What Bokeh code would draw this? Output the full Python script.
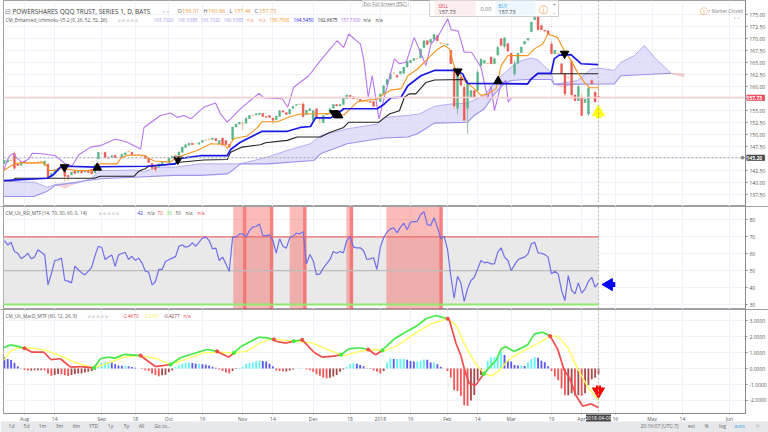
from math import pi
from bokeh.embed import file_html
from bokeh.resources import INLINE
from bokeh.layouts import column
from bokeh.models import Range1d, FixedTicker, Grid, Label, Span, PrintfTickFormatter
from bokeh.plotting import figure

# ---------------- DATA (bar index 0 = 2017-08-01, 171 = 2018-04-09) ----------------
bar_index = list(range(-6, 172))
opens = [144.0,144.3,144.7,146.0,143.8,143.6,144.5,144.2,144.0,144.0,144.3,
 144.3,143.6,143.8,141.2,141.9,142.6,143.0,142.8,141.5,141.6,
 142.4,142.1,142.6,142.2,142.6,142.8,142.0,144.9,146.1,146.3,
 145.3,145.3,145.7,145.3,145.3,145.8,146.5,146.3,145.8,145.9,
 145.7,145.6,145.0,144.0,143.4,143.2,143.9,144.3,144.2,145.1,
 145.5,145.7,146.3,147.3,147.8,148.2,148.1,148.0,148.4,148.8,
 149.0,149.0,149.2,148.0,149.3,148.8,148.0,148.9,151.6,152.2,
 152.4,152.4,153.3,154.0,154.1,154.2,154.4,153.8,154.0,153.4,
 153.1,153.8,155.0,154.6,154.3,155.5,156.1,156.3,156.4,154.2,
 155.0,153.0,155.4,153.5,152.5,154.2,154.4,155.5,156.3,156.0,
 156.3,157.5,158.2,157.9,157.5,157.4,157.1,156.9,156.9,156.9,
 156.1,156.9,158.5,160.4,161.6,162.9,162.4,162.7,162.8,164.1,
 165.0,165.5,165.9,166.0,168.2,169.6,169.2,169.9,170.7,169.2,
 169.0,168.7,167.6,163.8,155.5,162.0,159.9,155.5,157.8,159.2,
 159.2,164.4,164.9,164.8,166.2,164.8,166.6,170.0,168.4,169.0,
 167.0,162.7,164.9,167.1,168.9,169.7,171.5,174.0,175.5,172.8,
 171.8,171.7,168.9,166.9,167.0,164.8,162.7,161.9,165.3,158.3,
 157.1,157.8,156.7,154.3,161.3,158.9,158.01]
closes = [144.6,144.7,144.6,143.0,143.5,144.3,144.1,144.0,143.9,144.2,144.1,
 144.5,144.5,141.1,141.9,142.7,142.9,142.8,141.3,141.2,142.2,
 141.9,142.4,142.0,142.6,142.1,141.8,143.7,146.3,146.1,145.2,
 145.1,145.6,145.2,145.3,145.9,146.2,146.4,145.8,145.7,145.8,
 145.5,145.0,144.2,143.0,142.7,143.9,144.3,144.2,145.1,145.5,
 145.7,146.4,147.4,147.9,148.2,147.9,148.1,148.3,148.8,148.9,
 149.1,149.3,148.7,148.8,147.8,147.9,147.4,151.6,152.2,152.6,
 152.3,153.4,154.0,154.1,154.4,154.5,153.8,153.6,153.6,153.0,
 153.9,155.0,154.7,154.2,155.3,155.9,156.3,156.4,153.8,155.1,
 155.4,155.0,153.6,153.3,154.0,154.4,155.4,156.3,156.0,156.3,
 157.6,158.3,157.9,157.5,157.4,157.0,156.9,157.0,156.7,155.9,
 156.0,158.5,160.2,161.5,162.7,162.8,162.0,163.2,164.1,165.3,
 165.5,165.9,165.8,167.9,169.6,168.8,169.9,170.9,169.6,169.0,
 168.9,168.9,164.8,156.0,163.5,160.3,153.0,160.6,159.2,157.8,
 163.0,165.8,165.5,164.9,164.8,165.9,168.2,168.6,170.2,167.4,
 164.8,164.8,167.0,168.3,169.5,170.1,173.5,175.5,171.9,171.9,
 171.6,171.0,166.9,167.6,166.9,162.7,158.5,162.0,158.3,157.1,
 160.0,154.0,157.4,159.7,160.6,156.8,157.73]
visible_highs = {-3:146.5,7:144.0,12:143.4,65:152.7,74:153.6,83:156.8,128:164.6,129:164.0,131:160.6,132:161.3,
 135:163.5,141:168.5,146:165.5,152:176.5,153:176.0,157:169.5,163:165.5,165:160.5,166:158.5,168:160.0,169:161.6,171:160.88}
visible_lows = {-3:142.7,7:140.8,12:140.2,13:140.5,38:142.6,39:142.2,65:151.0,74:152.2,83:153.5,86:152.6,88:152.3,
 128:155.3,129:154.3,131:152.7,132:150.2,143:168.0,146:162.2,161:158.0,163:157.5,166:153.9,168:153.9,171:157.46}

tenkan_x = [-6.2,-4.7,-3,-1.2,5.7,7,7.3,9.2,11.7,12.7,15.7,20.7,22.6,27.6,28.6,30.6,35.6,36.6,38.6,43.4,45.5,51.4,55.4,59.4,60.4,62.4,66.3,69.3,70.8,75.3,79.3,82.2,91.2,95.2,97.2,99.1,102.1,105,107.2,109.2,112.2,114.2,117.1,120.1,123.1,125.1,126.6,128.1,131.5,134,136,138,140.5,142,144,145.4,149.9,151.9,154.4,155.9,158.8,160.8,162.8,164.8,166.8,168.3,171]
tenkan_y = [142.5,143.2,143.9,144.1,144.1,143.2,142.5,142.5,143.9,142.8,142.5,142.5,143.9,143.9,145,145.7,145.7,145.3,144.5,144.3,145.3,146.7,148.1,148,147.1,149.2,149.7,151.4,152.7,152.7,153.8,154.3,154.4,154.1,155.5,156.8,157.2,157.4,158.5,159.3,159.6,162.3,163.7,165.8,167.9,168.6,167.9,164.1,160.9,159.6,158.2,158.5,159.6,164.4,166.5,166.5,166.5,167.9,168.9,171,170.3,167.5,165.5,163,160.9,159.8,159.8]
kijun_x = [-6.2,6.8,8.7,10.7,12.2,21.6,22.6,36.5,45,46,52.4,60.4,61.4,64.3,68.3,70.8,78.3,82.2,85.2,86.7,91.2,93.1,95.1,105.1,107.2,109.2,112.2,114.2,118.1,122.1,128.1,130.5,132,149.9,150.9,152.9,156.9,157.8,159.3,162.8,165.8,171]
kijun_y = [140.4,140.9,141.7,143.2,143.4,143.2,143.3,143.4,143.9,145,145.6,145.6,146.9,148.4,149.8,150.7,150.7,151.5,151.7,153.5,153.5,154.3,155.4,155.4,156.4,157.7,157.8,160.2,162.3,163.4,163.4,162.7,160.7,160.6,161.6,162.8,162.8,165.8,166.6,166.7,164.8,164.6]
base52_x = [-6.2,-3.7,-2.7,20.7,22.6,32.6,34.1,36,37,44.5,45.5,53.4,60.4,61.4,64.8,70.3,71.8,78.3,81.2,88.2,90.7,95.1,96.6,105.6,107.2,108.7,111.7,113.2,114.6,116.6,119.6,122.1,131,132,149.9,150.9,152.9,171]
base52_y = [140.4,140.4,140.9,140.9,141.3,141.3,142.4,142.9,143.4,143.9,144.2,144.7,144.8,146.3,147.4,147.9,148.3,148.8,149.5,149.5,150.4,151.5,152.6,152.6,153.5,154.3,155,157.8,158.5,158.5,160.9,161.4,161.5,160.7,160.6,161.6,162.7,162.7]
chikou_x = [-6.2,-4.7,-3.4,-2.4,-0.7,1.3,2.3,5.3,9.2,12.2,14.2,16.2,19.7,22.6,27.1,30.6,34.6,35.6,40.5,43.5,45.5,47.5,49.5,53.4,56.9,58.4,60.4,64.8,69.8,71.3,76.8,78.4,80.2,84.7,88.2,90.7,93.1,95.1,96.6,100.1,101.1,102.4,103.6,105.6,107.2,110.2,111.7,113.7,116.1,118.1,119.6,121.1,123.6,126.1,127.1,129.2,131,133.2,136,138,139,140,142,143.4,144.1,145.1]
chikou_y = [142.5,145.3,146.1,145.2,144.2,144.9,146.1,146,145.6,143.9,143.5,145.8,147.4,147.7,149.1,148.4,147,151.5,154,154.5,153.6,154,153.3,155.7,156.6,154.3,152.6,155.7,158.6,157.7,157.5,155.7,159.9,162.3,165.5,167.6,169.6,168.2,171,168.9,165.5,157.8,162.3,153.3,157.8,165.8,164.8,165.1,170.3,166.9,164.4,168.9,171,174.2,171.9,171.6,167.2,167.2,164.1,157.5,160.2,155,160.6,161.3,156.8,157.7]
span_a_x = [-6.2,-1.2,2.8,6.8,9.2,15.7,19.7,22.6,32.6,35.6,39.5,45,52.4,60.4,64.3,72.3,78.3,85.2,88.2,96.1,105.1,107.2,114.2,117.6,122.1,127.1,132,137,140.5,143.9,146.9,150.9,152.9,156.9,157.4,157.8,164.8,168.8,171,175.7,177.7,181.7,184.7,187.6,192.6]
span_a_y = [140.4,140.1,140.1,139,139.6,139.9,140.8,142.5,142.6,142.2,143.2,143.2,143.9,143.9,143.9,145.3,146.7,148.1,149.8,151.2,152.2,153.6,154,154.3,155.9,156.4,156.6,158.2,161.3,163.4,165.2,166,165.6,163,161.5,160.5,161.3,163.7,163.9,163.4,165.1,166.5,168.6,166.2,162.8]
span_b_x = [-6.2,2.8,6.8,9.2,15.7,22.6,32.6,44.5,52.4,60.4,61.9,64.3,72.3,86.2,88.2,96.1,105.1,107.2,114.2,117.1,122.1,132,134,137,140,142.9,144.9,149.9,156.9,157.8,175.7,177.7,192.6]
span_b_y = [137.1,137.1,138.2,139.4,140.1,140.8,141.1,141.5,141.5,141.8,142.5,143.9,143.9,144.6,146,148.1,149.1,149.3,149.5,150.2,152.4,152.6,154,155.4,158.5,160.6,161.3,161.5,161.5,160.5,160.6,162.3,162.8]
red_cloud_x = [[9.2,15.7,12.0],[157.8,164.0,160.0],[192.6,196.4,196.4]]
red_cloud_y = [[139.6,140.0,138.9],[160.5,160.5,160.0],[162.8,162.7,162.1]]
cross_down = [(11.9,143.2),(45.7,144.8),(92.2,154.5),(129.1,163.2),(160.9,166.9)]
cross_up = [(21.7,143.1),(93.6,154.0),(141.1,161.2)]

rsi_x = list(range(-6, 172))
rsi = [67.8,65.2,66.8,61.3,60.3,57,58.3,60.3,57,58,62.3,60.9,59.3,41.6,48.1,56,56.4,57.4,44.2,43.8,42.8,52.6,50.7,48.7,47.5,49.7,52,58.9,64.4,63.7,
 56.6,58,59.3,52.6,59.3,60.1,60.9,56.6,58.5,56,57.4,54.6,49.7,49.1,41.6,43.6,50.7,50.7,55.4,56.4,57.4,58.3,64.4,65.2,63.9,64.4,66.4,64.4,66.8,69.2,
 69.8,67.8,62.9,63.3,56,58,54,49.5,69.8,69.8,71.7,71.7,69.8,73.7,75.7,76.1,77.6,70.7,70.7,71.1,67.8,60.3,68.8,64.4,63.3,69.4,70.4,72.1,71.7,73.1,
 54,59.5,56,47.7,48.1,51.5,54,56.6,61.3,60.3,61.3,60.5,67.8,70.2,63.9,63.5,63.5,61.9,56.6,57,57.6,50.7,63.9,69.4,72.8,74.7,75.3,72.3,75.7,78,74.3,78.6,
 79,79,83,84.9,77.2,76.7,81.2,75.7,68.8,70.4,62.9,47.1,33.7,46.7,42.8,31.8,39.3,44.2,46.1,51,56,54.6,55,54,54,60.9,63.5,58,56,50.1,53.4,56.4,57.4,58,
 59.9,65.8,66.8,60.5,60.3,59.5,58,48.1,49.7,48.1,38.3,32.4,47.1,38.3,36.3,42.8,36.7,39.3,43.6,46.1,40.2,42.8]
overbought_left = [62.2,79.0,95.9,107.8]
overbought_right = [74.1,84.0,97.9,124.6]
exit_left = [65.1,73.1,83.0,96.9,123.6]
exit_right = [66.1,74.1,84.0,97.9,124.6]

macd_x = [-6.2,-4.2,-2.2,0,2.2,5.8,7.8,10.7,13.7,16.7,20.7,22.6,25,27,29.6,34.6,36.5,39,43.5,46.5,49.5,54.4,57.4,60.9,62.4,64.3,67.3,69.8,72.3,74.3,74.8,77.8,80.2,82.7,83.4,86.2,88.7,92.2,94.3,96.6,100,102.4,104.6,106.6,107.2,110.2,113.2,117.1,119.6,122.6,126.1,126.6,128.6,130,131,132.5,134.5,136.8,139,140.5,142,143.4,145.9,149.9,151.9,154.4,156.6,158.8,160.8,162.3,164.3,166.3,168.8,171]
macd = [1.31,1.49,1.41,1.28,1.03,1.03,.57,.62,.09,.13,.05,.62,.72,.66,.89,.82,.51,.13,.26,.68,.89,1.2,1.08,.72,.99,1.35,1.7,1.97,1.93,1.83,1.72,1.6,1.72,1.81,1.66,1.03,.72,.78,.87,1.24,1.31,1.2,.87,1.14,1.28,1.87,2.25,2.71,3.13,3.33,3.13,3.02,1.56,.82,0,-.95,-1.02,-.33,.2,.51,1.24,1.37,1.08,1.49,2.18,2.29,2.04,1.24,-.12,-.54,-1.69,-2.36,-2.21,-2.46]
cross_i = [0,20.7,34.6,43.5,57.4,62.4,74.3,80.2,82.7,94.3,102.4,106.6,126.1,136.8,156.6]
signal_x = [-6.2,-4.2,-2.2,0.8,5.8,10.7,14.7,20.7,25.6,29.6,34.6,39.5,43.5,48.5,53.4,58.4,62.4,66.3,69.8,73.3,80.2,85.7,89.7,95.1,100.1,104.6,107.2,111.2,116.1,121.1,126.1,128.6,131.5,134.5,136.8,139,141.5,144,146.9,151.9,156.6,158.8,161.8,164.8,167.8,171]
signal = [.51,1.1,1.28,1.31,1.18,.82,.41,.05,.41,.72,.82,.61,.26,.62,.99,1.03,.99,1.1,1.56,1.87,1.72,1.62,1.24,.82,1.1,1.2,1.1,1.45,2.18,2.81,3.13,2.71,1.35,.3,-.28,-.47,-.12,.51,.93,1.45,2.04,2.04,1.35,0,-1.16,-2]
hist = [.71,.6,.54,.35,.15,.02,-.08,-.12,-.12,-.1,-.1,
 -.1,-.12,-.3,-.44,-.4,-.33,-.35,-.42,-.46,-.4,
 -.33,-.3,-.3,-.25,-.2,-.15,-.05,.15,.35,.4,
 .4,.38,.28,.2,.18,.18,.15,.1,.05,.01,
 -.02,-.1,-.15,-.3,-.4,-.48,-.42,-.38,-.22,-.12,
 .1,.2,.3,.35,.38,.36,.3,.3,.27,.25,
 .2,.12,.05,-.05,-.15,-.25,-.3,-.15,-.03,.05,
 .1,.3,.33,.38,.45,.5,.48,.45,.3,.15,
 -.12,-.15,-.18,-.18,-.12,-.05,.03,.05,.01,-.05,
 -.1,-.2,-.35,-.45,-.55,-.6,-.58,-.5,-.4,-.2,
 -.05,.1,.28,.33,.3,.22,.15,.03,-.02,-.12,
 -.2,-.3,-.15,.38,.63,.6,.6,.6,.6,.55,
 .48,.45,.45,.5,.58,.55,.38,.38,.28,.12,
 .01,-.15,-.55,-1.36,-1.4,-1.7,-2.3,-2.33,-2.0,-1.65,
 -.75,-.4,.02,.5,.72,.72,.72,1.05,.85,.5,
 .45,.22,.2,.2,.17,.4,.6,.72,.68,.5,
 .4,.15,-.15,-.5,-.73,-1.25,-1.67,-1.67,-1.55,-1.7,
 -1.67,-1.7,-1.55,-1.03,-.67,-.58,-.37]

time_tick_index = [0,9,23,33,43,53,65,74,86,97,106,115,126,135,145,157,166,176,187,196,210]
time_tick_labels = ["Aug","14","Sep","18","Oct","16","Nov","14","Dec","18","2018","16","Feb","14","Mar","19","Apr","16","May","14","Jun"]
price_ticks = [137.5,140,142.5,145,147.5,150,152.5,155,157.5,160,162.5,165,167.5,170,172.5,175]
rsi_ticks = [30,40,50,60,70,80]
macd_ticks = [-2,-1,0,1,2,3]
last_price = 157.73
alert_price = 145.20
last_bar = 171

# ---------------- LAYOUT ----------------
LEFT, FW, RB, BB = 3, 742, 23, 19
H1, H2, H3 = 206, 103, 104
xr = Range1d(-6.26, 214.8)
FONT = "Open Sans"
GRID = "#eff2f8"
AXC = "#8a8a8a"


def pane(h, yr, ticks, fmt, bottom=0):
    p = figure(frame_width=FW, frame_height=h, x_range=xr, y_range=Range1d(*yr),
               y_axis_location="right", output_backend="svg", toolbar_location=None,
               min_border_left=LEFT, min_border_top=0, min_border_bottom=bottom, min_border_right=RB,
               background_fill_color="white", border_fill_color="white",
               outline_line_color="#a0a0a0", outline_line_width=1)
    p.grid.visible = False
    p.add_layout(Grid(dimension=0, ticker=FixedTicker(ticks=time_tick_index), grid_line_color=GRID, grid_line_width=1))
    p.add_layout(Grid(dimension=1, ticker=FixedTicker(ticks=ticks), grid_line_color=GRID, grid_line_width=1))
    ax = p.yaxis[0]
    ax.ticker = FixedTicker(ticks=ticks)
    ax.formatter = PrintfTickFormatter(format=fmt)
    ax.major_label_text_font = FONT
    ax.major_label_text_font_size = "5px"
    ax.major_label_text_color = "#555555"
    ax.major_tick_in = 0
    ax.major_tick_out = 2
    ax.major_tick_line_color = AXC
    ax.minor_tick_line_color = None
    ax.axis_line_color = AXC
    ax.major_label_standoff = 2
    p.xaxis.visible = bottom > 0
    p.add_layout(Span(location=last_bar, dimension="height", line_color="#b0b0b0", line_dash="2 2", line_width=1))
    return p


# transparent sheet on top of the panes for legends, tags and the bottom toolbar
ov = figure(width=768, height=432, x_range=Range1d(0, 768), y_range=Range1d(0, 432), output_backend="svg",
            toolbar_location=None, x_axis_location=None, y_axis_location=None, min_border=0,
            background_fill_color=None, border_fill_color=None, outline_line_color=None,
            styles={"position": "absolute", "left": "0px", "top": "0px", "pointer-events": "none"})
ov.grid.visible = False


def txt(rx, ry, s, color="#555555", size=5, weight="normal", align="left", bg=None):
    ov.add_layout(Label(x=rx, y=432 - ry, text=s, text_color=color, text_font=FONT, text_font_size=f"{size}px",
                        text_font_style=weight, text_baseline="middle", text_align=align, background_fill_color=bg))


def box(x0, x1, y0, y1, fill, line=None):
    ov.quad(left=[x0], right=[x1], top=[432 - y0], bottom=[432 - y1], fill_color=fill, line_color=line, line_width=1)


# ---------------- MAIN PANE ----------------
p1 = pane(H1, (135.0, 178.0), price_ticks, "%.2f")
p1.patch(span_a_x + span_b_x[::-1], span_a_y + span_b_y[::-1], fill_color="#d5d1f8", fill_alpha=0.7, line_color=None)
p1.patches(red_cloud_x, red_cloud_y, fill_color="#f8ccd0", fill_alpha=0.8, line_color="#f2a9ae", line_width=0.6)
p1.line(span_a_x, span_a_y, line_color="#b4aef0", line_width=1)
p1.line(span_b_x, span_b_y, line_color="#9a92ec", line_width=1.1)
p1.add_layout(Span(location=last_price, dimension="width", line_color="#f9cfcf", line_width=1.5))
p1.add_layout(Span(location=alert_price, dimension="width", line_color="#aaaaaa", line_dash="2 2", line_width=1))

tops = [max(o, c) for o, c in zip(opens, closes)]
bots = [min(o, c) for o, c in zip(opens, closes)]
colors = ["#f3ad66" if abs(o - c) <= 0.2 else ("#58b488" if c > o else "#ea5a56") for o, c in zip(opens, closes)]
highs = [visible_highs.get(i, t) for i, t in zip(bar_index, tops)]
lows = [visible_lows.get(i, b) for i, b in zip(bar_index, bots)]
wick_colors = ["#8db79c" if c == "#58b488" else "#e9b184" for c in colors]
p1.segment(bar_index, lows, bar_index, highs, line_color=wick_colors, line_width=0.9)
p1.vbar(x=bar_index, top=tops, bottom=bots, width=0.58, fill_color=colors, line_color=colors, line_width=0.4)

p1.line(chikou_x, chikou_y, line_color="#bb74ef", line_width=1.1)
p1.line(base52_x, base52_y, line_color="#222222", line_width=1.1)
p1.line(tenkan_x, tenkan_y, line_color="#f7931e", line_width=1.1)
p1.line(kijun_x, kijun_y, line_color="#1818e6", line_width=1.7)
p1.scatter([a for a, b in cross_down], [b for a, b in cross_down], marker="inverted_triangle", size=8.5, color="black")
p1.scatter([a for a, b in cross_up], [b for a, b in cross_up], marker="triangle", size=8.5, color="black")

# yellow arrow
p1.segment([last_bar], [153.4], [last_bar], [154.6], line_color="#ffff00", line_width=5)
p1.scatter([last_bar], [154.66], marker="triangle", size=12, color="#ffff00")

# ---------------- RSI PANE ----------------
p2 = pane(H2, (27.05, 87.9), rsi_ticks, "%d")
p2.quad(left=[-6.26], right=[last_bar], top=[70], bottom=[30], fill_color="#e9e9e9", line_color=None)
p2.quad(left=overbought_left, right=overbought_right, top=[87.9] * 4, bottom=[27.05] * 4,
        fill_color="#f4544f", fill_alpha=0.4, line_color=None)
p2.quad(left=exit_left, right=exit_right, top=[87.9] * 5, bottom=[27.05] * 5,
        fill_color="#f22a2a", fill_alpha=0.4, line_color=None)
p2.segment([-6.26], [70], [last_bar], [70], line_color="#f06a6a", line_width=1.2)
p2.segment([-6.26], [50], [last_bar], [50], line_color="#bdbdbd", line_width=1.2)
p2.segment([-6.26], [30], [last_bar], [30], line_color="#8fe86f", line_width=2)
p2.line(rsi_x, rsi, line_color="#6f6fe8", line_width=1.2)
# blue arrow
p2.segment([174.1], [41.8], [176], [41.8], line_color="#0000ff", line_width=5)
p2.scatter([174.1], [41.8], marker="triangle", angle=pi / 2, size=12, color="#0000ff")

# ---------------- MACD PANE ----------------
p3 = pane(H3, (-2.816, 3.71), macd_ticks, "%.4f", bottom=BB)
hist_c = []
for k, v in enumerate(hist):
    prev = hist[k - 1] if k else v + 0.05
    if v >= 0:
        hist_c.append("#62f5f5" if v >= prev else "#5a5aee")
    else:
        hist_c.append("#f25858" if v < prev else "#a84a4a")
p3.vbar(x=bar_index, top=hist, bottom=[0] * len(hist), width=0.55, fill_color=hist_c, line_color=None)
p3.line(signal_x, signal, line_color="#ffff55", line_width=1.3)
seg_xs, seg_ys, seg_c = [], [], []
for k in range(len(macd_x) - 1):
    mid = (macd_x[k] + macd_x[k + 1]) / 2
    n = sum(1 for c in cross_i if c <= mid)
    seg_xs.append([macd_x[k], macd_x[k + 1]])
    seg_ys.append([macd[k], macd[k + 1]])
    seg_c.append("#f14a4a" if n % 2 else "#44e844")
p3.multi_line(seg_xs, seg_ys, line_color=seg_c, line_width=1.7)
lookup = dict(zip(macd_x, macd))
p3.scatter(cross_i, [lookup[c] for c in cross_i], marker="circle", size=3.2,
           color=["#f14a4a" if k % 2 == 0 else "#44e844" for k in range(len(cross_i))])
# red arrow
p3.segment([last_bar], [-1.06], [last_bar], [-1.43], line_color="#ff0000", line_width=5)
p3.scatter([last_bar], [-1.43], marker="inverted_triangle", size=12, color="#ff0000")

xa = p3.xaxis[0]
xa.ticker = FixedTicker(ticks=time_tick_index)
xa.major_label_overrides = {t: s for t, s in zip(time_tick_index, time_tick_labels)}
xa.major_label_text_font = FONT
xa.major_label_text_font_size = "5px"
xa.major_label_text_color = "#555555"
xa.major_tick_in = 0
xa.major_tick_out = 1
xa.major_tick_line_color = AXC
xa.minor_tick_line_color = None
xa.axis_line_color = AXC
xa.major_label_standoff = 1

# ---------------- OVERLAY: boxes first, then texts ----------------
box(0, 768, 421, 432, "#e6e8ec")
ov.segment([0, 0], [226, 123], [768, 768], [226, 123], line_color="#a0a0a0", line_width=1)
box(362, 408, -1, 6, "#ffffff", "#e0e0e0")
box(429, 558, -1, 16, "#ffffff", "#d0d0d0")
box(434, 475, 0, 15, "#fdeef0")
box(495, 535, 0, 15, "#eef7fd")
box(585.5, 610.5, 414, 421, "#444444")

txt(4, 10.5, "⊟", "#8a8a8a", 7)
txt(12, 10.5, "POWERSHARES QQQ TRUST, SERIES 1, D, BATS", "#3a3a3a", 6.4)
txt(162, 10.5, "▪ ▪", "#d5d5d5", 7)
for x_pos, lab, val in [(177, "O", "158.01"), (203, "H", "160.88"), (229, "L", "157.46"), (254, "C", "157.73")]:
    txt(x_pos, 10.5, lab, "#555555", 5.5)
    txt(x_pos + 4.5, 10.5, val, "#f09a3c", 5.5)
txt(5, 19, "CM_Enhanced_Ichimoku-V5.2 (9, 26, 52, 52, 26)", "#555555", 4.7)
txt(117, 19, "■ ■ ■ ■ ■", "#dadada", 5)
for x_pos, s, c in [(153, "163.7020", "#a49cec"), (177, "160.5385", "#a49cec"), (200, "163.7020", "#a49cec"),
                    (223, "160.5385", "#a49cec"), (246, "n/a", "#f4a07a"), (258, "n/a", "#f4a07a"),
                    (269, "159.7500", "#f7931e"), (293, "164.5450", "#1212e6"), (317, "162.6675", "#222222"),
                    (340, "157.7300", "#b96cf0"), (363, "n/a", "#444444"), (375, "n/a", "#444444")]:
    txt(x_pos, 19, s, c, 4.7)

txt(363, 3.2, "Exit Full Screen (ESC)", "#777777", 4.5)

txt(438, 5, "SELL", "#e8475a", 4.5)
txt(438, 11, "157.73", "#444444", 5.5)
txt(480, 8.5, "0.00", "#777777", 5.5)
txt(498, 5, "BUY", "#3a9ee8", 4.5)
txt(498, 11, "157.73", "#444444", 5.5)
txt(543, 8.5, "ⓘ", "#f09a3c", 9, align="center")
txt(554, 4, "+", "#666666", 5, align="center")
txt(554, 12, "−", "#666666", 5, align="center")

txt(703, 10, "ⓘ", "#f09a3c", 8, align="center")
txt(708, 10, "• Market Closed", "#888888", 4.7)
txt(733, 17, "▪ ▪", "#d5d5d5", 6)

txt(746, 97.3, " 157.73 ", "#ffffff", 5, "bold", bg="#ee4b5c")
txt(746, 157.3, " 145.20 ", "#ffffff", 5, "bold", bg="#444444")
txt(742, 157.3, "+", "#ffffff", 4, align="center", bg="#555555")

txt(5, 212.3, "CM_Ult_RSI_MTF (14, 70, 30, 60, 0, 14)", "#555555", 4.7)
txt(98, 212.3, "■ ■ ■ ■ ■", "#dadada", 5)
for x_pos, s, c in [(137, "42", "#3434e8"), (147, "n/a", "#555555"), (157, "70", "#ee4444"), (166, "30", "#55dd33"),
                    (175, "50", "#555555"), (185, "n/a", "#555555"), (197, "n/a", "#ee4444")]:
    txt(x_pos, 212.3, s, c, 4.7)

txt(5, 315.3, "CM_Ult_MacD_MTF (60, 12, 26, 9)", "#555555", 4.7)
txt(87, 315.3, "■ ■ ■ ■ ■", "#dadada", 5)
for x_pos, s, c in [(122, "-2.4670", "#ee4444"), (143, "-2.0391", "#f2f055"), (163, "-0.4277", "#7a3a3a"), (183, "n/a", "#ee4444")]:
    txt(x_pos, 315.3, s, c, 4.7)

txt(598, 417.5, "2018-04-09", "#ffffff", 5, align="center")

for x_pos, s in [(11, "1d"), (26, "5d"), (42, "1m"), (59, "3m"), (76, "6m"), (93, "YTD"), (110, "1y"), (126, "5y"),
                 (141, "All"), (162, "Go to...")]:
    txt(x_pos, 425.5, s, "#666666", 5, align="center")
txt(659, 425.5, "20:16:07 (UTC-7)", "#666666", 5, align="center")
for x_pos, s, c in [(691, "ext", "#666666"), (706, "%", "#666666"), (722, "log", "#666666"), (739, "auto", "#3a9ee8")]:
    txt(x_pos, 425.5, s, c, 5, align="center")
txt(757, 425.5, "○", "#666666", 6, align="center")

page = column(p1, p2, p3, spacing=0)
open("out.html", "w").write(file_html((page, ov), INLINE))
